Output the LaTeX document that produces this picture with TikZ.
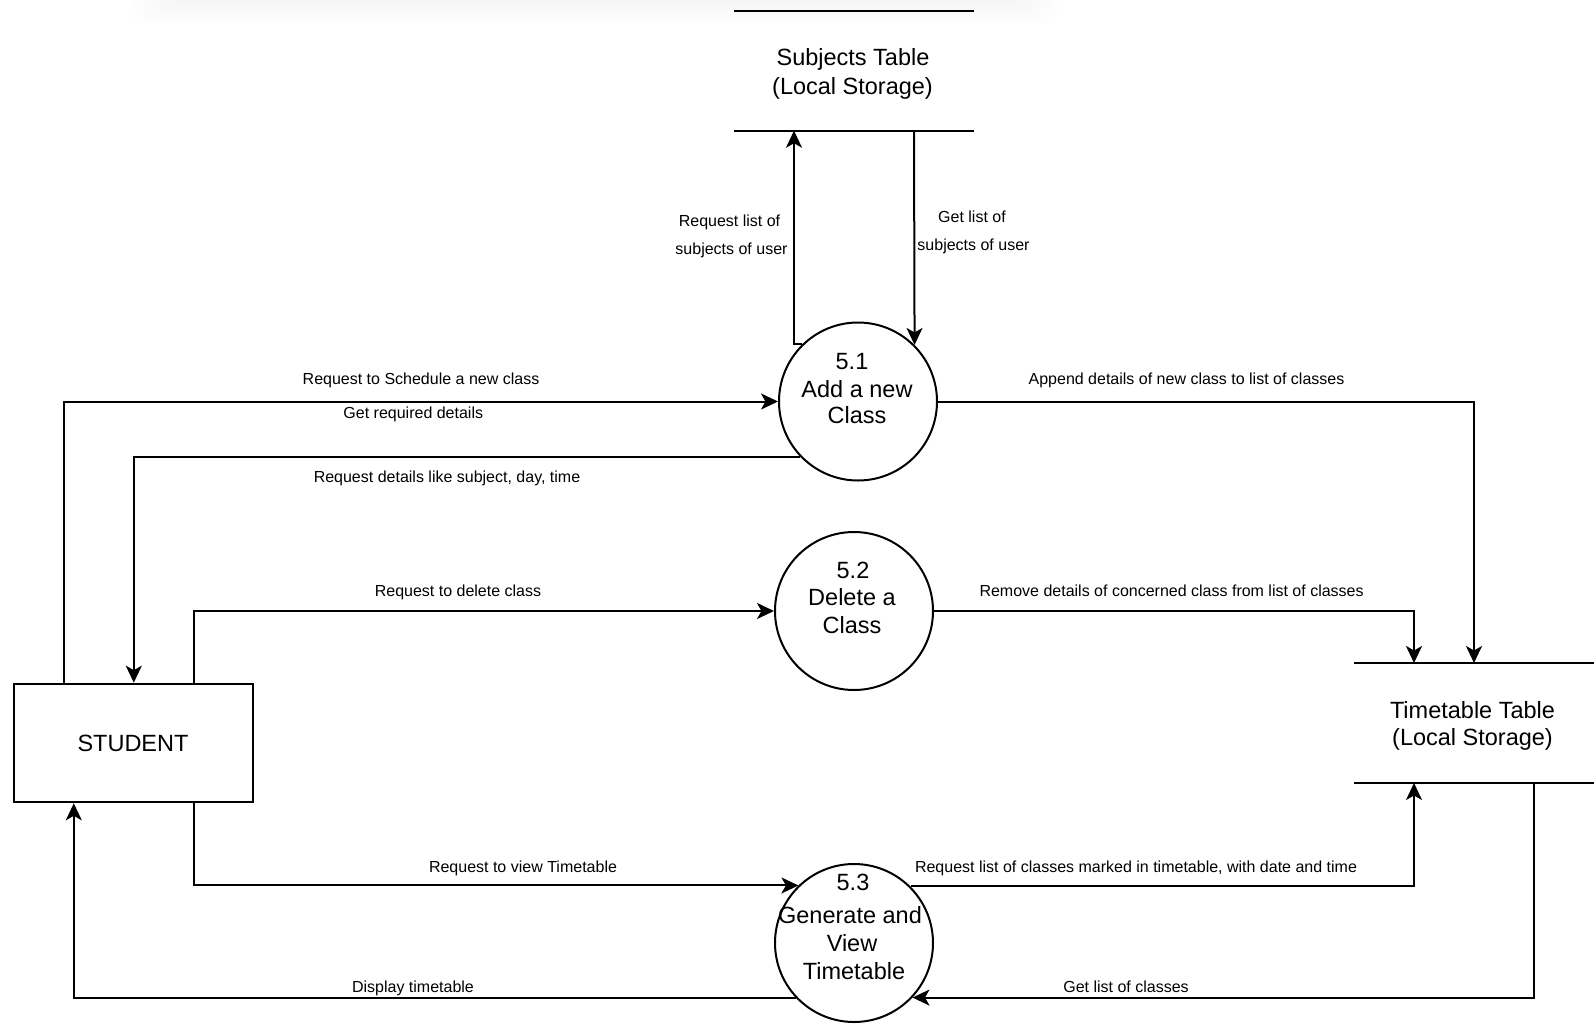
\documentclass[tikz,border=0pt]{standalone}
\usepackage{fontspec}
\setmainfont{Liberation Sans}
\usetikzlibrary{arrows.meta}
\newcommand\bigtxt{\fontsize{23.5}{28}\selectfont}
\newcommand\smalltxt{\fontsize{16}{19}\selectfont}

\begin{document}
\begin{tikzpicture}[x=1pt,y=-1pt,
  flow/.style={line width=2pt, -{Stealth[length=17pt,width=16pt,inset=4.5pt]}},
  proc/.style={circle, draw, line width=2pt, minimum size=158pt, inner sep=0pt},
  entity/.style={rectangle, draw, line width=2pt, minimum width=239pt, minimum height=118.6pt, inner sep=0pt},
  store/.style={rectangle, minimum width=240pt, minimum height=120pt, inner sep=0pt, outer sep=0pt},
  storeline/.style={line width=2pt},
  head/.style={font=\bigtxt, anchor=base, inner sep=0pt},
  lbl/.style={font=\smalltxt, anchor=base, inner sep=0pt},
]
% canvas
\fill[white] (0,0) rectangle (1596,1026);
\useasboundingbox (0,0) rectangle (1596,1026);

% soft shadow along the top edge
\foreach \i in {0,...,9}
  \fill[black, opacity=0.0035, rounded corners=14pt]
    (130+\i*5,-40) rectangle (1060-\i*5,24-\i*2.4);

% external entity
\node[entity] (student) at (133.8,743) {};
\node[head] (studentT) at (133,751.7) {STUDENT};

% data stores
\node[store] (st) at (854,70.7) {};
\draw[storeline] (st.north west) -- (st.north east);
\draw[storeline] (st.south west) -- (st.south east);
\node[head] (stT1) at (853,65.9) {Subjects Table};
\node[head] (stT2) at (852.5,94.1) {(Local Storage)};

\node[store] (tt) at (1474,723) {};
\draw[storeline] (tt.north west) -- (tt.north east);
\draw[storeline] (tt.south west) -- (tt.south east);
\node[head] (ttT1) at (1472.5,718.4) {Timetable Table};
\node[head] (ttT2) at (1472.5,745.4) {(Local Storage)};

% processes
\node[proc] (p51) at (858,401.5) {};
\node[head] (p51a) at (852,369.9) {5.1};
\node[head] (p51b) at (857,397) {Add a new};
\node[head] (p51c) at (857,423.5) {Class};

\node[proc] (p52) at (854,611) {};
\node[head] (p52a) at (853,578.5) {5.2};
\node[head] (p52b) at (852,605.5) {Delete a};
\node[head] (p52c) at (852,633) {Class};

\node[proc] (p53) at (854,943) {};
\node[head] (p53a) at (853,890) {5.3};
\node[head] (p53b) at (850,923.8) {Generate and};
\node[head] (p53c) at (852,951.5) {View};
\node[head] (p53d) at (854,979.5) {Timetable};

% data flows
\draw[flow] (p51.134) -| ([xshift=-60pt]st.south);
\draw[flow] ([xshift=60pt]st.south) -- (p51.45.6);
\draw[flow] ([xshift=-70pt]student.north) |- (p51.west);
\draw[flow] (p51.224.2) -| (student.north);
\draw[flow] (p51.east) -| (tt.north);
\draw[flow] ([xshift=60pt]student.north) |- (p52.west);
\draw[flow] (p52.east) -| ([xshift=-60pt]tt.north);
\draw[flow] ([xshift=60pt]student.south) |- (p53.134.6);
\draw[flow] (p53.45.4) -| ([xshift=-60pt]tt.south);
\draw[flow] ([xshift=60pt]tt.south) |- (p53.-43.4);
\draw[flow] (p53.223.4) -| ([xshift=-60pt]student.south);

% flow labels
\node[lbl] (l1a) at (729.5,226.5) {Request list of};
\node[lbl] (l1b) at (731.5,254.5) {subjects of user};
\node[lbl] (l2a) at (972,222.4) {Get list of};
\node[lbl] (l2b) at (973.5,250.4) {subjects of user};
\node[lbl] (l3) at (421,384.7) {Request to Schedule a new class};
\node[lbl] (l4) at (413.3,418.2) {Get required details};
\node[lbl] (l5) at (447,482) {Request details like subject, day, time};
\node[lbl] (l6) at (1186.5,384.7) {Append details of new class to list of classes};
\node[lbl] (l7) at (458,596.7) {Request to delete class};
\node[lbl] (l8) at (1171.6,596.7) {Remove details of concerned class from list of classes};
\node[lbl] (l9) at (523,872.5) {Request to view Timetable};
\node[lbl] (l10) at (1136,872.5) {Request list of classes marked in timetable, with date and time};
\node[lbl] (l11) at (413,992.5) {Display timetable};
\node[lbl] (l12) at (1126,992.5) {Get list of classes};
\end{tikzpicture}
\end{document}
